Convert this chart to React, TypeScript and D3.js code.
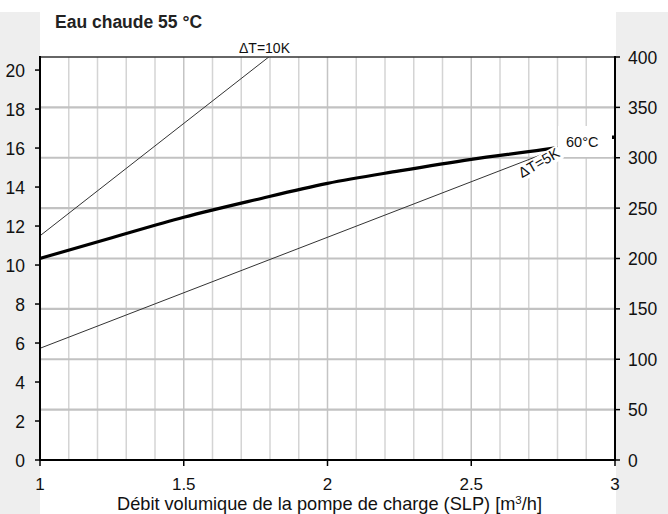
import React from "react";
import * as d3 from "d3";

const flowDomain = [1, 3];
const xTicks = [1, 1.5, 2, 2.5, 3];
const leftTicks = [0, 2, 4, 6, 8, 10, 12, 14, 16, 18, 20];
const rightTicks = [0, 50, 100, 150, 200, 250, 300, 350, 400];
const leftMax = 20.67;
const rightMax = 400;

// 60°C curve (kW vs m³/h)
const flow60 = [1, 1.25, 1.5, 1.75, 2, 2.25, 2.5, 2.75, 2.8];
const power60 = [10.34, 11.4, 12.45, 13.35, 14.19, 14.83, 15.42, 15.92, 16.03];
// ΔT lines
const flowDT10 = [1, 1.8];
const powerDT10 = [11.5, 20.72];
const flowDT5 = [1, 2.8];
const powerDT5 = [5.73, 15.98];

const FONT = "'Liberation Sans', Arial, sans-serif";

export default function App() {
  const W = 668, H = 514;
  const L = 40, R = 615, T = 57, B = 460;
  const x = d3.scaleLinear().domain(flowDomain).range([L, R]);
  const yL = d3.scaleLinear().domain([0, leftMax]).range([B, T]);
  const yR = d3.scaleLinear().domain([0, rightMax]).range([B, T]);

  const curve = d3.line<[number, number]>().x(d => x(d[0])).y(d => yL(d[1])).curve(d3.curveMonotoneX);
  const straight = d3.line<[number, number]>().x(d => x(d[0])).y(d => yL(d[1]));

  const d60 = curve(flow60.map((f, i) => [f, power60[i]] as [number, number]))!;
  const d10 = straight(flowDT10.map((f, i) => [f, powerDT10[i]] as [number, number]))!;
  const d5 = straight(flowDT5.map((f, i) => [f, powerDT5[i]] as [number, number]))!;

  const vGrid = d3.range(11, 30).map(v => v / 10);
  const hGrid = rightTicks.filter(t => t > 0 && t < rightMax);

  const lab5x = 541.5, lab5y = 167;

  return (
    <svg width={W} height={H} style={{ position: "absolute", left: 0, top: 0, display: "block" }}>
      <rect x={0} y={0} width={W} height={H} fill="#ffffff" />
      <rect x={0} y={12} width={L} height={H - 12} fill="#eeeeee" />
      <rect x={616} y={12} width={W - 616} height={H - 12} fill="#eeeeee" />
      <defs>
        <clipPath id="plotclip">
          <rect x={L} y={T} width={R - L} height={B - T} />
        </clipPath>
      </defs>
      {vGrid.map(v => (
        <line key={"v" + v} x1={x(v)} x2={x(v)} y1={T} y2={B}
          stroke={Math.abs(v * 2 - Math.round(v * 2)) < 1e-6 ? "#c4c4c4" : "#d4d4d4"} strokeWidth={1.5} />
      ))}
      {hGrid.map(t => (
        <line key={"h" + t} x1={L} x2={R} y1={yR(t)} y2={yR(t)} stroke="#c2c2c2" strokeWidth={2.2} />
      ))}
      <g clipPath="url(#plotclip)">
        <path d={d10} fill="none" stroke="#333" strokeWidth={1} />
        <path d={d5} fill="none" stroke="#333" strokeWidth={1} />
        <path d={d60} fill="none" stroke="#000" strokeWidth={3.2} />
      </g>
      {/* frame */}
      <line x1={L} x2={R} y1={T} y2={T} stroke="#333" strokeWidth={1.6} />
      <line x1={L} x2={R} y1={B} y2={B} stroke="#000" strokeWidth={2} />
      <line x1={L} x2={L} y1={T - 1} y2={B + 1} stroke="#000" strokeWidth={2} />
      <line x1={R} x2={R} y1={T - 1} y2={B + 1} stroke="#000" strokeWidth={2} />
      {/* left axis */}
      {leftTicks.map(t => (
        <g key={"l" + t}>
          <line x1={L - 5} x2={L} y1={yL(t)} y2={yL(t)} stroke="#000" strokeWidth={1.5} />
          <text x={25} y={yL(t) + 6.5} textAnchor="end" fontFamily={FONT} fontSize={17.5} fill="#111">{t}</text>
        </g>
      ))}
      {/* right axis */}
      {rightTicks.map(t => (
        <g key={"r" + t}>
          <line x1={R} x2={R + 5} y1={yR(t)} y2={yR(t)} stroke="#000" strokeWidth={1.5} />
          <text x={628} y={yR(t) + 6.5} textAnchor="start" fontFamily={FONT} fontSize={17.5} fill="#111">{t}</text>
        </g>
      ))}
      {/* bottom axis */}
      {xTicks.map(t => (
        <g key={"b" + t}>
          <line x1={x(t)} x2={x(t)} y1={B} y2={B + 6} stroke="#000" strokeWidth={1.5} />
          <text x={x(t)} y={490} textAnchor="middle" fontFamily={FONT} fontSize={17} fill="#111">{t}</text>
        </g>
      ))}
      <text x={329.5} y={510} textAnchor="middle" fontFamily={FONT} fontSize={18.2} fill="#111">
        Débit volumique de la pompe de charge (SLP) [m<tspan dy={-6.5} fontSize={11.5}>3</tspan><tspan dy={6.5}>/h]</tspan>
      </text>
      <text x={55} y={28} fontFamily={FONT} fontSize={17.5} fontWeight="bold" fill="#222">Eau chaude 55 °C</text>
      {/* labels */}
      <text x={264.5} y={53} textAnchor="middle" fontFamily={FONT} fontSize={14} fill="#111">ΔT=10K</text>
      <rect x={558} y={126} width={54} height={31} fill="#fff" />
      <text x={566} y={147} fontFamily={FONT} fontSize={14.5} fill="#111">60°C</text>
      <g transform={`translate(${lab5x},${lab5y}) rotate(-30)`}>
        <rect x={-24} y={-11.5} width={48} height={15} fill="#fff" />
        <text x={0} y={0} textAnchor="middle" fontFamily={FONT} fontSize={14.5} fill="#111">ΔT=5K</text>
      </g>
      <rect x={612} y={135.5} width={2.5} height={3.5} fill="#000" />
    </svg>
  );
}
